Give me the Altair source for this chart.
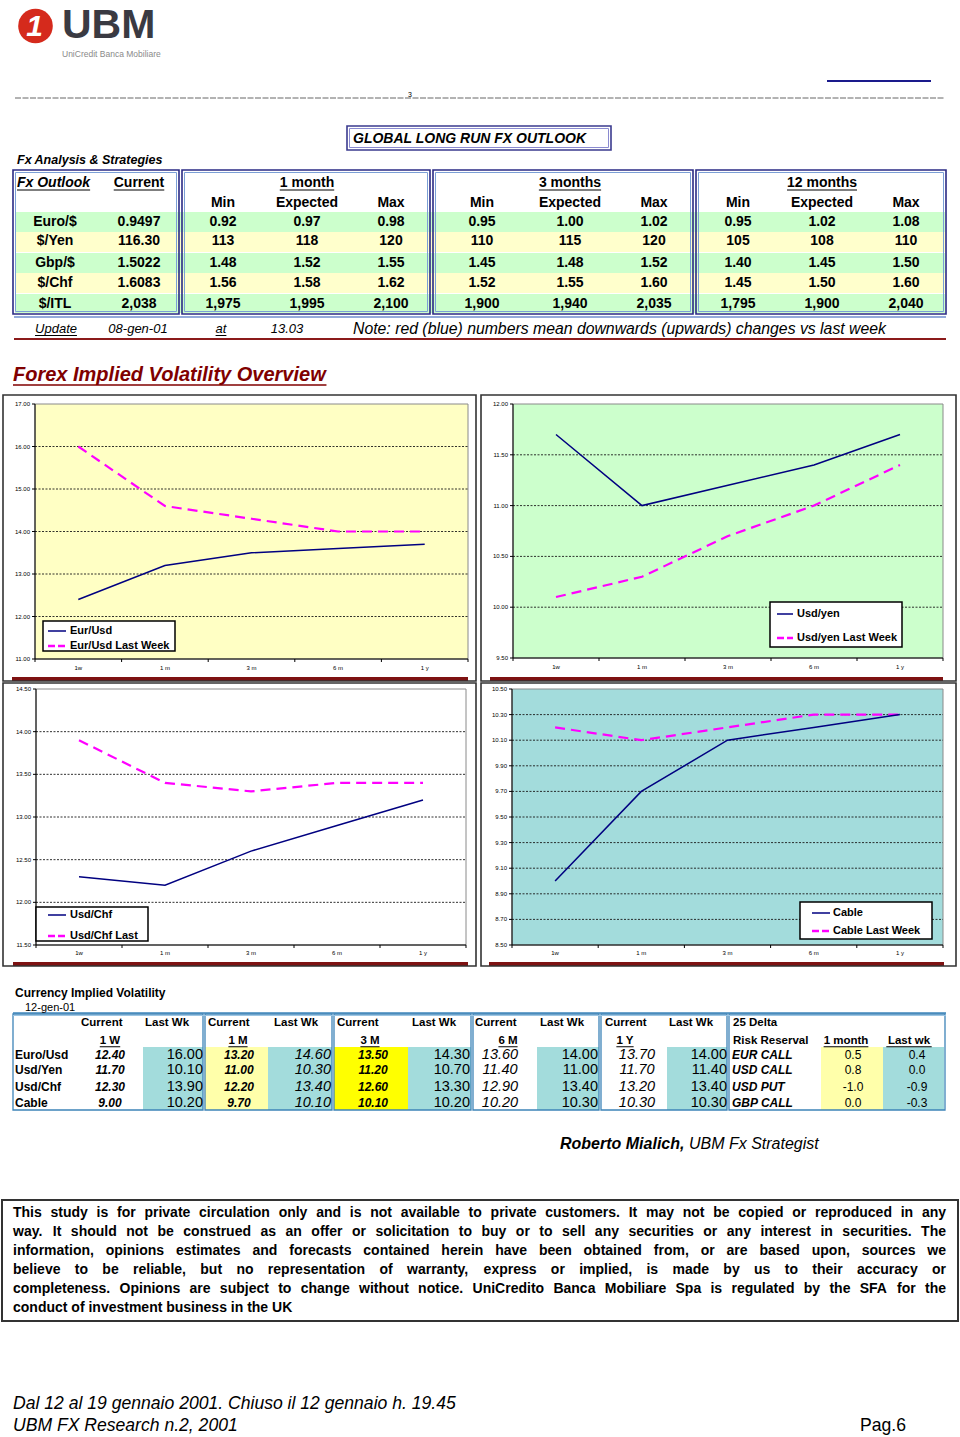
import altair as alt
import pandas as pd

W, H = 960, 1437
FONT = "Liberation Sans"

# ---------------- data ----------------
outlook_pairs = ["Euro/$", "$/Yen", "Gbp/$", "$/Chf", "$/ITL"]
outlook_current = ["0.9497", "116.30", "1.5022", "1.6083", "2,038"]
m1_min = ["0.92", "113", "1.48", "1.56", "1,975"]
m1_exp = ["0.97", "118", "1.52", "1.58", "1,995"]
m1_max = ["0.98", "120", "1.55", "1.62", "2,100"]
m3_min = ["0.95", "110", "1.45", "1.52", "1,900"]
m3_exp = ["1.00", "115", "1.48", "1.55", "1,940"]
m3_max = ["1.02", "120", "1.52", "1.60", "2,035"]
m12_min = ["0.95", "105", "1.40", "1.45", "1,795"]
m12_exp = ["1.02", "108", "1.45", "1.50", "1,900"]
m12_max = ["1.08", "110", "1.50", "1.60", "2,040"]
horizons = ["1 month", "3 months", "12 months"]

tenors = ["1w", "1 m", "3 m", "6 m", "1 y"]
eur_now = [12.40, 13.20, 13.50, 13.60, 13.70]
eur_last = [16.00, 14.60, 14.30, 14.00, 14.00]
yen_now = [11.70, 11.00, 11.20, 11.40, 11.70]
yen_last = [10.10, 10.30, 10.70, 11.00, 11.40]
chf_now = [12.30, 12.20, 12.60, 12.90, 13.20]
chf_last = [13.90, 13.40, 13.30, 13.40, 13.40]
cab_now = [9.00, 9.70, 10.10, 10.20, 10.30]
cab_last = [10.20, 10.10, 10.20, 10.30, 10.30]

eur_ticks = [11.0, 12.0, 13.0, 14.0, 15.0, 16.0, 17.0]
yen_ticks = [9.5, 10.0, 10.5, 11.0, 11.5, 12.0]
chf_ticks = [11.5, 12.0, 12.5, 13.0, 13.5, 14.0, 14.5]
cab_ticks = [8.5, 8.7, 8.9, 9.1, 9.3, 9.5, 9.7, 9.9, 10.1, 10.3, 10.5]

vol_rows = ["Euro/Usd", "Usd/Yen", "Usd/Chf", "Cable"]
vol_heads = ["1 W", "1 M", "3 M", "6 M", "1 Y"]
rr_labels = ["EUR CALL", "USD CALL", "USD PUT", "GBP CALL"]
rr_1m = [0.5, 0.8, -1.0, 0.0]
rr_last = [0.4, 0.0, -0.9, -0.3]

disclaimer = [
    "This study is for private circulation only and is not available to private customers. It may not be copied or reproduced in any",
    "way. It should not be construed as an offer or solicitation to buy or to sell any securities or any interest in securities. The",
    "information, opinions estimates and forecasts contained herein have been obtained from, or are based upon, sources we",
    "believe to be reliable, but no representation of warranty, express or implied, is made by us to their accuracy or",
    "completeness. Opinions are subject to change without notice. UniCredito Banca Mobiliare Spa is regulated by the SFA for the",
    "conduct of investment business in the UK",
]

# ---------------- text width estimate (Arial metrics) ----------------
REG = {' ': 278, ',': 278, '-': 333, '.': 278, '/': 278, ':': 278, '(': 333, ')': 333, '&': 667, '$': 556,
       'A': 667, 'B': 667, 'C': 722, 'D': 722, 'E': 667, 'F': 611, 'G': 778, 'H': 722, 'I': 278, 'J': 500,
       'K': 667, 'L': 556, 'M': 833, 'N': 722, 'O': 778, 'P': 667, 'Q': 778, 'R': 722, 'S': 667, 'T': 611,
       'U': 722, 'V': 667, 'W': 944, 'X': 667, 'Y': 667, 'Z': 611,
       'a': 556, 'b': 556, 'c': 500, 'd': 556, 'e': 556, 'f': 278, 'g': 556, 'h': 556, 'i': 222, 'j': 222,
       'k': 500, 'l': 222, 'm': 833, 'n': 556, 'o': 556, 'p': 556, 'q': 556, 'r': 333, 's': 500, 't': 278,
       'u': 556, 'v': 500, 'w': 722, 'x': 500, 'y': 500, 'z': 500}
BOLD = {' ': 278, ',': 278, '-': 333, '.': 278, '/': 278, ':': 333, '(': 333, ')': 333, '&': 722, '$': 556,
        'A': 722, 'B': 722, 'C': 722, 'D': 722, 'E': 667, 'F': 611, 'G': 778, 'H': 722, 'I': 278, 'J': 556,
        'K': 722, 'L': 611, 'M': 833, 'N': 722, 'O': 778, 'P': 667, 'Q': 778, 'R': 722, 'S': 667, 'T': 611,
        'U': 722, 'V': 667, 'W': 944, 'X': 667, 'Y': 667, 'Z': 611,
        'a': 556, 'b': 611, 'c': 556, 'd': 611, 'e': 556, 'f': 333, 'g': 611, 'h': 611, 'i': 278, 'j': 278,
        'k': 556, 'l': 278, 'm': 889, 'n': 611, 'o': 611, 'p': 611, 'q': 611, 'r': 389, 's': 556, 't': 333,
        'u': 611, 'v': 556, 'w': 778, 'x': 556, 'y': 556, 'z': 500}


def tw(s, size, bold=False):
    tbl = BOLD if bold else REG
    return sum(tbl.get(c, 556) for c in s) * size / 1000.0


# ---------------- page-level primitives ----------------
PX = alt.Scale(domain=[0, W], range=[0, W], nice=False, zero=False)
PY = alt.Scale(domain=[0, H], range=[0, H], nice=False, zero=False)


def px(f):
    return alt.X(f, type="quantitative", scale=PX, axis=None)


def py(f):
    return alt.Y(f, type="quantitative", scale=PY, axis=None)


texts, rules, fills, outlines = [], [], [], []


def R(x, x2, y, y2=None, color="black", width=1.0, dash=None):
    rules.append(dict(x=x, x2=x2, y=y, y2=(y if y2 is None else y2), c=color, w=width,
                      d=tuple(dash) if dash else ()))


def T(x, y, t, size=12, bold=False, italic=False, align="left", color="black", ul=False, ulc=None,
      baseline="middle"):
    texts.append(dict(x=x, y=y, t=t, size=size, b=bold, i=italic, a=align, c=color, bl=baseline))
    if ul:
        w = tw(t, size, bold)
        left = x if align == "left" else (x - w / 2 if align == "center" else x - w)
        uy = y + size * 0.5
        R(left, left + w, uy, color=ulc or color, width=max(1.0, size / 13.0))


def F(x, x2, y, y2, fill):
    fills.append(dict(x=x, x2=x2, y=y, y2=y2, f=fill))


def O(x, x2, y, y2, stroke="black", width=1.0):
    outlines.append(dict(x=x, x2=x2, y=y, y2=y2, s=stroke, w=width))


def dbox(x, x2, y, y2, outer="#2b2b85", inner="#7b9fd6"):
    O(x, x2, y, y2, outer, 1.6)
    O(x + 2.5, x2 - 2.5, y + 2.5, y2 - 2.5, inner, 1.0)


# ---------------- header ----------------
R(827, 931, 81, color="#1a1a8c", width=2)
R(15, 945, 98, color="#666666", width=1, dash=[6, 1.5])
T(408, 95, "3", size=7)
T(62, 38, "UBM", size=41, bold=True, color="#3a3a42", baseline="alphabetic")
T(62, 54, "UniCredit Banca Mobiliare", size=8.5, color="#8a8a8a")

# ---------------- Global outlook table ----------------
dbox(347, 611, 126, 150, outer="#3b3b8f", inner="#8a8ad0")
T(353, 139, "GLOBAL LONG RUN FX  OUTLOOK", size=14, bold=True, italic=True)
T(17, 160, "Fx  Analysis & Strategies", size=12.5, bold=True, italic=True)

row_y = [222, 241, 263, 283, 304]
band_y = [(212, 232), (232, 252), (253, 273), (273, 293), (294, 313)]
band_c = ["#CCFFCC", "#FFFFCC", "#CCFFCC", "#FFFFCC", "#CCFFCC"]
for (a, b), c in zip(band_y, band_c):
    F(15, 945, a, b, c)

sections = [(13, 179), (182, 430), (433, 693), (696, 946)]
for a, b in sections:
    dbox(a, b, 170, 314)

T(17, 183, "Fx Outlook", size=14, bold=True, italic=True, ul=True)
T(139, 183, "Current", size=14, bold=True, align="center", ul=True)
group_x = [[223, 307, 391], [482, 570, 654], [738, 822, 906]]
for hname, gx in zip(horizons, group_x):
    T(gx[1], 183, hname, size=14, bold=True, align="center", ul=True)
    for lab, cx in zip(["Min", "Expected", "Max"], gx):
        T(cx, 203, lab, size=14, bold=True, align="center")

cols = [m1_min, m1_exp, m1_max, m3_min, m3_exp, m3_max, m12_min, m12_exp, m12_max]
col_x = [x for g in group_x for x in g]
for i, yy in enumerate(row_y):
    T(55, yy, outlook_pairs[i], size=14, bold=True, align="center")
    T(139, yy, outlook_current[i], size=14, bold=True, align="center")
    for col, cx in zip(cols, col_x):
        T(cx, yy, col[i], size=14, bold=True, align="center")

R(14, 946, 317, color="#6f8fcf", width=1.5)
T(56, 329, "Update", size=13, italic=True, align="center", ul=True)
T(138, 329, "08-gen-01", size=13, italic=True, align="center")
T(221, 329, "at", size=13, italic=True, align="center", ul=True)
T(287, 329, "13.03", size=13, italic=True, align="center")
T(353, 329, "Note: red (blue) numbers mean downwards (upwards) changes vs last week", size=15.8, italic=True)
R(14, 946, 339, color="#8b1a1a", width=2)

T(13, 375, "Forex Implied Volatility Overview", size=20, bold=True, italic=True, color="#800000", ul=True)

# ---------------- chart panels ----------------
panels = [
    dict(x0=35, x1=468, yt=404, yb=659, ticks=eur_ticks, bg="#FFFFC4", now=eur_now, last=eur_last, dy=9,
         box=(3, 476, 395, 681), bar=(12, 468, 677, 681)),
    dict(x0=513, x1=943, yt=404, yb=658, ticks=yen_ticks, bg="#CCFFCC", now=yen_now, last=yen_last, dy=9,
         box=(481, 956, 395, 681), bar=(490, 943, 677, 681)),
    dict(x0=36, x1=466, yt=689, yb=945, ticks=chf_ticks, bg="#FFFFFF", now=chf_now, last=chf_last, dy=8,
         box=(3, 476, 683, 966), bar=(13, 468, 962, 966)),
    dict(x0=512, x1=943, yt=689, yb=945, ticks=cab_ticks, bg="#A3DCDC", now=cab_now, last=cab_last, dy=8,
         box=(481, 956, 683, 966), bar=(489, 944, 962, 966)),
]
legends = [
    dict(box=(43, 175, 621, 651), ys=(631, 646), sx=(48, 66), tx=70, labels=("Eur/Usd", "Eur/Usd Last Week")),
    dict(box=(770, 902, 602, 647), ys=(614, 638), sx=(777, 793), tx=797, labels=("Usd/yen", "Usd/yen Last Week")),
    dict(box=(36, 148, 907, 941), ys=(915, 936), sx=(48, 66), tx=70, labels=("Usd/Chf", "Usd/Chf Last")),
    dict(box=(800, 932, 902, 939), ys=(913, 931), sx=(812, 830), tx=833, labels=("Cable", "Cable Last Week")),
]

NAVY = "#000080"
MAG = "#FF00FF"


def panel_layers(p):
    n = len(tenors)
    lo, hi = p["ticks"][0], p["ticks"][-1]
    X = alt.Scale(domain=[0, n], range=[p["x0"], p["x1"]], nice=False, zero=False)
    Y = alt.Scale(domain=[lo, hi], range=[p["yb"], p["yt"]], nice=False, zero=False)

    def ex(f):
        return alt.X(f, type="quantitative", scale=X, axis=None)

    def ey(f):
        return alt.Y(f, type="quantitative", scale=Y, axis=None)

    out = []
    bg = pd.DataFrame({"a": [0], "b": [n], "lo": [lo], "hi": [hi]})
    out.append(alt.Chart(bg).mark_rect(fill=p["bg"], stroke="#8a8a8a", strokeWidth=1)
               .encode(x=ex("a"), x2="b", y=ey("lo"), y2="hi"))
    tdf = pd.DataFrame({"v": p["ticks"], "a": 0, "b": n, "lab": [f"{t:.2f}" for t in p["ticks"]]})
    out.append(alt.Chart(tdf.iloc[1:-1]).mark_rule(color="#1a1a1a", strokeWidth=0.9, strokeDash=[2, 1.5])
               .encode(x=ex("a"), x2="b", y=ey("v")))
    out.append(alt.Chart(bg).mark_rule(color="black", strokeWidth=1).encode(x=ex("a"), y=ey("lo"), y2="hi"))
    out.append(alt.Chart(bg).mark_rule(color="black", strokeWidth=1).encode(x=ex("a"), x2="b", y=ey("lo")))
    out.append(alt.Chart(tdf).mark_rule(color="black", strokeWidth=1, xOffset=-3)
               .encode(x=ex("a"), x2="a", y=ey("v"), y2="v"))
    out.append(alt.Chart(tdf).mark_text(align="right", baseline="middle", dx=-5, fontSize=6, font=FONT, color="black")
               .encode(x=ex("a"), y=ey("v"), text="lab:N"))
    xt = pd.DataFrame({"i": list(range(n + 1)), "lo": lo})
    out.append(alt.Chart(xt).mark_rule(color="black", strokeWidth=1, y2Offset=3)
               .encode(x=ex("i"), y=ey("lo"), y2="lo"))
    xl = pd.DataFrame({"pos": [i + 0.5 for i in range(n)], "lab": tenors, "lo": lo})
    out.append(alt.Chart(xl).mark_text(align="center", baseline="middle", dy=p["dy"], fontSize=6, font=FONT, color="black")
               .encode(x=ex("pos"), y=ey("lo"), text="lab:N"))
    ldf = pd.DataFrame({"pos": [i + 0.5 for i in range(n)], "v": p["last"]})
    out.append(alt.Chart(ldf).mark_line(color=MAG, strokeWidth=2.2, strokeDash=[10, 6])
               .encode(x=ex("pos"), y=ey("v")))
    cdf = pd.DataFrame({"pos": [i + 0.5 for i in range(n)], "v": p["now"]})
    out.append(alt.Chart(cdf).mark_line(color=NAVY, strokeWidth=1.5)
               .encode(x=ex("pos"), y=ey("v")))
    return out


for p in panels:
    b = p["box"]
    O(b[0], b[1], b[2], b[3], "#333333", 1.6)
    r = p["bar"]
    F(r[0], r[1], r[2], r[3], "#7e1212")

for lg in legends:
    b = lg["box"]
    T(lg["tx"], lg["ys"][0], lg["labels"][0], size=11, bold=True)
    T(lg["tx"], lg["ys"][1], lg["labels"][1], size=11, bold=True)
    R(lg["sx"][0], lg["sx"][1], lg["ys"][0], color=NAVY, width=1.5)
    R(lg["sx"][0], lg["sx"][1], lg["ys"][1], color=MAG, width=2.5, dash=[7, 3])

# ---------------- volatility table ----------------
T(15, 993, "Currency Implied Volatility", size=12, bold=True)
T(25, 1008, "12-gen-01", size=11)

vy = [1055, 1070, 1087, 1103]
cell_top, cell_bot = 1047, 1110
for a, b in [(143, 203), (268, 332), (408, 471), (537, 599), (667, 727), (883, 944)]:
    F(a, b, cell_top, cell_bot, "#A3DCDC")
for a, b in [(205, 268), (821, 883)]:
    F(a, b, cell_top, cell_bot, "#FFFFAA")
F(334, 408, cell_top, cell_bot, "#FFFF00")

R(13, 946, 1013, color="#3e84b8", width=1.5)
R(13, 946, 1015.5, color="#9cc6e4", width=1)
for a, b in [(13, 203), (205, 332), (334, 471), (473, 599), (601, 727), (729, 945)]:
    O(a, b, 1014, 1110, "#3e84b8", 1.3)

cur_left = [81, 208, 337, 475, 605]
last_left = [145, 274, 412, 540, 669]
head_cx = [110, 238, 370, 508, 625]
cur_cx = [110, 239, 373, 500, 637]
last_rx = [203, 331, 470, 598, 727]
cur_style = [(True, 12), (True, 12), (True, 12), (False, 14.5), (False, 14.5)]
last_italic = [False, True, False, False, False]
vol_now = [eur_now, yen_now, chf_now, cab_now]
vol_last = [eur_last, yen_last, chf_last, cab_last]
for k in range(5):
    T(cur_left[k], 1023, "Current", size=11.5, bold=True)
    T(last_left[k], 1023, "Last Wk", size=11.5, bold=True)
    T(head_cx[k], 1041, vol_heads[k], size=11.5, bold=True, align="center", ul=True)
    for r in range(4):
        bb, sz = cur_style[k]
        T(cur_cx[k], vy[r], f"{vol_now[r][k]:.2f}", size=sz, bold=bb, italic=True, align="center")
        T(last_rx[k], vy[r], f"{vol_last[r][k]:.2f}", size=14.5, italic=last_italic[k], align="right")
for r in range(4):
    T(15, vy[r], vol_rows[r], size=12, bold=True)
    T(732, vy[r], rr_labels[r], size=12, bold=True, italic=True)
    T(853, vy[r], f"{rr_1m[r]:.1f}", size=12, align="center")
    T(917, vy[r], f"{rr_last[r]:.1f}", size=12, align="center")
T(733, 1023, "25 Delta", size=11.5, bold=True)
T(733, 1041, "Risk Reserval", size=11.5, bold=True)
T(846, 1041, "1 month", size=11.5, bold=True, align="center", ul=True)
T(909, 1041, "Last  wk", size=11.5, bold=True, align="center", ul=True)

# ---------------- signature, disclaimer, footer ----------------
sig1 = "Roberto Mialich,"
T(560, 1144, sig1, size=16, bold=True, italic=True)
T(560 + tw(sig1 + " ", 16, True), 1144, "UBM Fx Strategist", size=16, italic=True)

O(2, 958, 1200, 1321, "#333333", 2)
dl_y = [1213, 1232, 1251, 1270, 1289, 1308]
DS = 14
for li, (line, yy) in enumerate(zip(disclaimer, dl_y)):
    if li == len(disclaimer) - 1:
        T(13, yy, line, size=DS, bold=True)
        continue
    words = line.split(" ")
    ws = [tw(w, DS, True) for w in words]
    gap = max(3.0, (933 - sum(ws)) / (len(words) - 1))
    xx = 13.0
    for j, (w, wd) in enumerate(zip(words, ws)):
        if j == len(words) - 1:
            T(946, yy, w, size=DS, bold=True, align="right")
        else:
            T(xx, yy, w, size=DS, bold=True)
        xx += wd + gap

foot1 = "Dal 12 al 19 gennaio 2001. Chiuso il 12 gennaio h. 19.45"
fs = 443.0 / tw(foot1, 1.0)
T(13, 1404, foot1, size=fs, italic=True)
T(13, 1426, "UBM FX Research n.2, 2001", size=fs, italic=True)
T(860, 1426, "Pag.6", size=fs)

# ---------------- assemble ----------------
layers = []

fdf = pd.DataFrame(fills)
layers.append(alt.Chart(fdf).mark_rect().encode(x=px("x"), x2="x2", y=py("y"), y2="y2",
                                                fill=alt.Fill("f:N", scale=None)))
# logo
logo = pd.DataFrame({"x": [35.5], "y": [26]})
layers.append(alt.Chart(logo).mark_circle(size=1200, color="#d52a1c", opacity=1).encode(x=px("x"), y=py("y")))
layers.append(alt.Chart(logo).mark_text(text="1", fontSize=30, fontWeight="bold", fontStyle="italic", font=FONT,
                                        color="white", baseline="middle", align="center", dx=-1, dy=1)
              .encode(x=px("x"), y=py("y")))

for p in panels:
    layers.extend(panel_layers(p))

# legend boxes
lb = pd.DataFrame([dict(x=l["box"][0], x2=l["box"][1], y=l["box"][2], y2=l["box"][3]) for l in legends])
layers.append(alt.Chart(lb).mark_rect(fill="white", stroke="black", strokeWidth=1.5)
              .encode(x=px("x"), x2="x2", y=py("y"), y2="y2"))

odf = pd.DataFrame(outlines)
for wv, g in odf.groupby("w"):
    layers.append(alt.Chart(g).mark_rect(fillOpacity=0, strokeWidth=float(wv))
                  .encode(x=px("x"), x2="x2", y=py("y"), y2="y2", stroke=alt.Stroke("s:N", scale=None)))

rdf = pd.DataFrame(rules)
for (wv, dv), g in rdf.groupby(["w", "d"]):
    kw = dict(strokeWidth=float(wv))
    if len(dv):
        kw["strokeDash"] = list(dv)
    layers.append(alt.Chart(g).mark_rule(**kw)
                  .encode(x=px("x"), x2="x2", y=py("y"), y2="y2", color=alt.Color("c:N", scale=None)))

tdf_all = pd.DataFrame(texts)
for (sz, b, it, al, bl), g in tdf_all.groupby(["size", "b", "i", "a", "bl"]):
    layers.append(alt.Chart(g).mark_text(align=al, baseline=bl, font=FONT, fontSize=float(sz),
                                         fontWeight="bold" if b else "normal",
                                         fontStyle="italic" if it else "normal")
                  .encode(x=px("x"), y=py("y"), text="t:N", color=alt.Color("c:N", scale=None)))

chart = (alt.layer(*layers)
         .resolve_scale(x="independent", y="independent")
         .properties(width=W, height=H, autosize=alt.AutoSizeParams(type="none"), padding=0, background="white")
         .configure_view(stroke=None))

chart.save("out.html", embed_options={"renderer": "svg", "actions": False})
